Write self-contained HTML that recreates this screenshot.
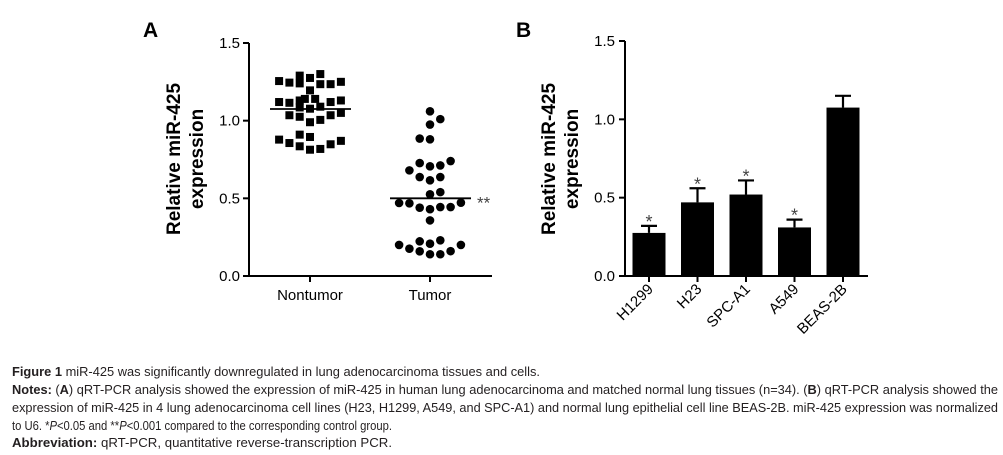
<!DOCTYPE html>
<html><head><meta charset="utf-8"><style>
body{margin:0;background:#fff;}
svg{display:block;font-family:"Liberation Sans",Arial,sans-serif;}
</style></head><body>
<svg id="fig" width="1003" height="455" viewBox="0 0 1003 455">
<g id="pa"></g>
<g id="pb"></g>
<g font-size="12.6" fill="#231f20">
<text x="12" y="376" textLength="528" lengthAdjust="spacingAndGlyphs"><tspan font-weight="bold">Figure 1</tspan> miR-425 was significantly downregulated in lung adenocarcinoma tissues and cells.</text>
<text x="12" y="394" textLength="986" lengthAdjust="spacingAndGlyphs"><tspan font-weight="bold">Notes:</tspan> (<tspan font-weight="bold">A</tspan>) qRT-PCR analysis showed the expression of miR-425 in human lung adenocarcinoma and matched normal lung tissues (n=34). (<tspan font-weight="bold">B</tspan>) qRT-PCR analysis showed the</text>
<text x="12" y="412" textLength="986" lengthAdjust="spacingAndGlyphs">expression of miR-425 in 4 lung adenocarcinoma cell lines (H23, H1299, A549, and SPC-A1) and normal lung epithelial cell line BEAS-2B. miR-425 expression was normalized</text>
<text x="12" y="430" textLength="380" lengthAdjust="spacingAndGlyphs">to U6. *<tspan font-style="italic">P</tspan>&lt;0.05 and **<tspan font-style="italic">P</tspan>&lt;0.001 compared to the corresponding control group.</text>
<text x="12" y="447" textLength="380" lengthAdjust="spacingAndGlyphs"><tspan font-weight="bold">Abbreviation:</tspan> qRT-PCR, quantitative reverse-transcription PCR.</text>
</g>
</svg>
<script>
// Panel A data
const groupsA = ["Nontumor", "Tumor"];
const nontumorValues = [1.255,1.245,1.29,1.24,1.275,1.195,1.30,1.235,1.235,1.25,1.12,1.115,1.13,1.085,1.077,1.14,1.14,1.09,1.12,1.13,1.035,1.025,0.99,1.005,1.035,1.05,0.878,0.856,0.91,0.835,0.895,0.813,0.818,0.848,0.87];
const nontumorLanes = [-3,-2,-1,-1,0,0,1,1,2,3,-3,-2,-1,-1,0,-0.5,0.5,1,2,3,-2,-1,0,1,2,3,-3,-2,-1,-1,0,0,1,2,3];
const tumorValues = [1.06,1.01,0.975,0.885,0.88,0.68,0.727,0.706,0.712,0.74,0.637,0.616,0.637,0.526,0.54,0.468,0.47,0.44,0.43,0.444,0.444,0.472,0.358,0.2,0.176,0.223,0.208,0.23,0.2,0.159,0.14,0.14,0.16];
const tumorLanes = [0,1,0,-1,0,-2,-1,0,1,2,-1,0,1,0,1,-2,-3,-1,0,1,2,3,0,-3,-2,-1,0,1,3,-1,0,1,2];
const meansA = [1.075, 0.5];
const ticksA = [0, 0.5, 1.0, 1.5];
// Panel B data
const cellLines = ["H1299","H23","SPC-A1","A549","BEAS-2B"];
const barValues = [0.275,0.47,0.52,0.31,1.075];
const errValues = [0.045,0.09,0.09,0.05,0.075];
const sigMarks = ["*","*","*","*",""];
const ticksB = [0, 0.5, 1.0, 1.5];

const NS="http://www.w3.org/2000/svg";
function mk(parent,tag,attrs,text){const e=document.createElementNS(NS,tag);for(const k in attrs)e.setAttribute(k,attrs[k]);if(text!==undefined)e.textContent=text;parent.appendChild(e);return e;}

// ---- Panel A ----
const pa=document.getElementById('pa');
const yA=v=>276-v*(276-43)/1.5;
const xA=i=>310+i*120;
const laneW=10.3;
let t=mk(pa,'text',{x:143,y:37,'font-size':21,'font-weight':'bold'},'A');

let ax=mk(pa,'path',{d:`M249,${yA(1.5)} V276 H492`,stroke:'#000','stroke-width':2,fill:'none'});

ticksA.forEach(v=>{
  let l=mk(pa,'line',{x1:243,x2:249,y1:yA(v),y2:yA(v),stroke:'#000','stroke-width':2});
  
  let tx=mk(pa,'text',{x:240,y:yA(v)+5,'font-size':15,'text-anchor':'end'},v.toFixed(1));
  
});
groupsA.forEach((g,i)=>{
  let l=mk(pa,'line',{x1:xA(i),x2:xA(i),y1:276,y2:282,stroke:'#000','stroke-width':2});
  
  let tx=mk(pa,'text',{x:xA(i),y:300,'font-size':15,'text-anchor':'middle'},g);
  
});
let yt=mk(pa,'text',{transform:'translate(180,159) rotate(-90)','font-size':19,'font-weight':'bold','text-anchor':'middle'});

mk(yt,'tspan',{x:0,y:0},'Relative miR-425');mk(yt,'tspan',{x:0,y:23},'expression');
nontumorValues.forEach((v,k)=>{
  let r=mk(pa,'rect',{x:xA(0)+nontumorLanes[k]*laneW-4,y:yA(v)-4,width:8,height:8,fill:'#000'});
  
});
tumorValues.forEach((v,k)=>{
  let c=mk(pa,'circle',{cx:xA(1)+tumorLanes[k]*laneW,cy:yA(v),r:4.3,fill:'#000'});
  
});
meansA.forEach((m,i)=>{
  let l=mk(pa,'line',{x1:xA(i)-40,x2:xA(i)+41,y1:yA(m),y2:yA(m),stroke:'#000','stroke-width':1.8});
  
});
let st=mk(pa,'text',{x:477,y:yA(meansA[1])+10,'font-size':17,fill:'#444'},'**');


// ---- Panel B ----
const pb=document.getElementById('pb');
const yB=v=>276-v*(276-41)/1.5;
const xB=i=>649+i*48.5;
const bw=33;
t=mk(pb,'text',{x:516,y:37,'font-size':21,'font-weight':'bold'},'B');

barValues.forEach((v,i)=>{
  const top=v+errValues[i];
  let e=mk(pb,'path',{d:`M${xB(i)},${yB(v)} V${yB(top)} M${xB(i)-8},${yB(top)} H${xB(i)+8}`,stroke:'#000','stroke-width':2.2,fill:'none'});
  
  let r=mk(pb,'rect',{x:xB(i)-bw/2,y:yB(v),width:bw,height:276-yB(v),fill:'#000'});
  
  if(sigMarks[i]){let s=mk(pb,'text',{x:xB(i),y:yB(top)+2,'font-size':18,'text-anchor':'middle',fill:'#444'},sigMarks[i]);
  }
  let l=mk(pb,'line',{x1:xB(i),x2:xB(i),y1:276,y2:282,stroke:'#000','stroke-width':2});
  
  let tx=mk(pb,'text',{transform:`translate(${xB(i)+5},${290}) rotate(-45)`,'font-size':15,'text-anchor':'end'},cellLines[i]);
  
});
ax=mk(pb,'path',{d:`M625,${yB(1.5)} V276 H868`,stroke:'#000','stroke-width':2,fill:'none'});

ticksB.forEach(v=>{
  let l=mk(pb,'line',{x1:619,x2:625,y1:yB(v),y2:yB(v),stroke:'#000','stroke-width':2});
  
  let tx=mk(pb,'text',{x:615,y:yB(v)+5,'font-size':15,'text-anchor':'end'},v.toFixed(1));
  
});
yt=mk(pb,'text',{transform:'translate(555,159) rotate(-90)','font-size':19,'font-weight':'bold','text-anchor':'middle'});

mk(yt,'tspan',{x:0,y:0},'Relative miR-425');mk(yt,'tspan',{x:0,y:23},'expression');
</script>
</body></html>
